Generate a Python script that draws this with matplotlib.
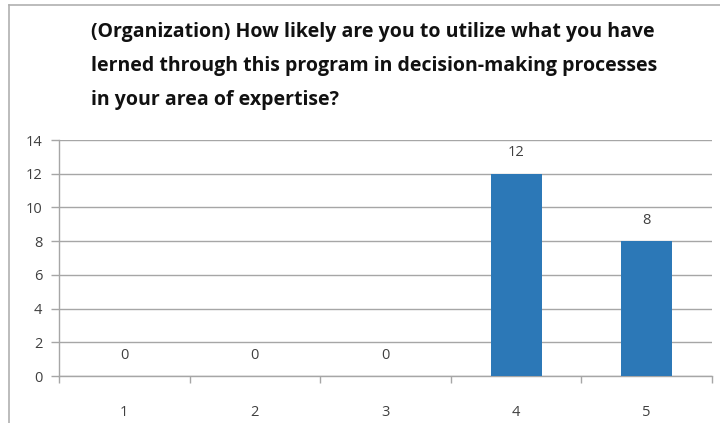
import matplotlib.pyplot as plt
from matplotlib.lines import Line2D

# Survey responses (1 = not likely ... 5 = very likely)
categories = ["1", "2", "3", "4", "5"]
counts = [0, 0, 0, 12, 8]
y_ticks = [0, 2, 4, 6, 8, 10, 12, 14]

title_lines = [
    "(Organization) How likely are you to utilize what you have",
    "lerned through this program in decision-making processes",
    "in your area of expertise?",
]

bar_color = "#2c78b7"
grid_color = "#a6a6a6"
text_color = "#404040"

fig = plt.figure(figsize=(7.2, 4.23), dpi=100)
ax = fig.add_axes([59 / 720, 1 - 376 / 423, (712 - 59) / 720, (376 - 140) / 423])

x = list(range(len(categories)))
ax.bar(x, counts, width=0.39, color=bar_color, zorder=3)

# value labels above each bar
for xi, v in zip(x, counts):
    ax.annotate(str(v), (xi, v), xytext=(0, 15), textcoords="offset points",
                ha="center", va="center", fontsize=10.5, color=text_color,
                family="Open Sans")

ax.set_xlim(-0.5, len(categories) - 0.5)
ax.set_ylim(0, 14)
ax.set_yticks(y_ticks)
ax.set_yticklabels([str(t) for t in y_ticks], family="Open Sans",
                   fontsize=10.5, color=text_color)

# category labels centered, tick marks at the boundaries
ax.set_xticks(x)
ax.set_xticklabels(categories, family="Open Sans", fontsize=10.5, color=text_color)
ax.tick_params(axis="x", length=0, pad=21)
ax.set_xticks([i - 0.5 for i in range(len(categories) + 1)], minor=True)
ax.tick_params(axis="x", which="minor", length=5, width=1, color=grid_color,
               direction="out")
ax.tick_params(axis="y", length=6, width=1, color=grid_color, pad=6)

ax.grid(axis="y", color=grid_color, linewidth=1, zorder=0)
for side in ["top", "right"]:
    ax.spines[side].set_visible(False)
for side in ["left", "bottom"]:
    ax.spines[side].set_color(grid_color)
    ax.spines[side].set_linewidth(1)

# title block
for i, line in enumerate(title_lines):
    fig.text(91 / 720, 1 - (32 + 34 * i) / 423, line, ha="left", va="center",
             fontsize=14, fontweight="bold", family="Open Sans", color="#111111")

# outer frame lines (top and left)
fig.add_artist(Line2D([9 / 720, 1], [1 - 5 / 423, 1 - 5 / 423],
                      transform=fig.transFigure, color="#b0b0b0", linewidth=1.2))
fig.add_artist(Line2D([9 / 720, 9 / 720], [0, 1 - 5 / 423],
                      transform=fig.transFigure, color="#b0b0b0", linewidth=1.2))

fig.savefig("out.png", dpi=100)
